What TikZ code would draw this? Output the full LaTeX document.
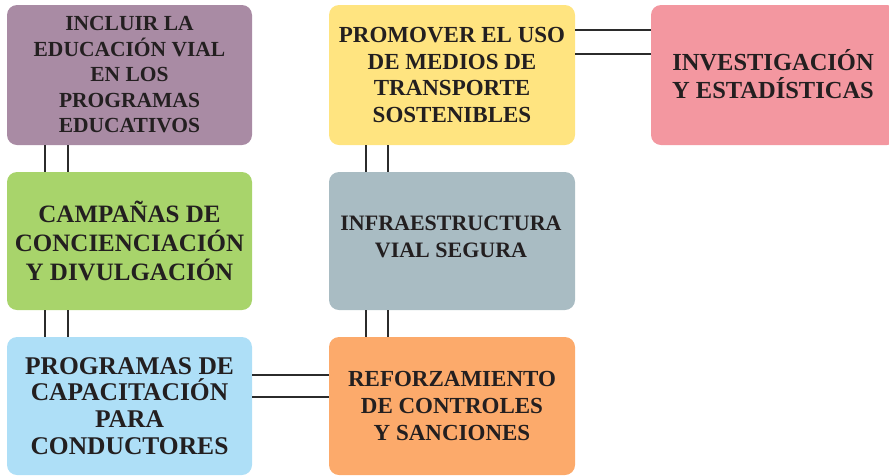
\documentclass[tikz,border=0pt]{standalone}
\usepackage{fontspec}
\setmainfont{Liberation Serif}
\usetikzlibrary{calc}
\definecolor{cpurple}{HTML}{A98BA4}
\definecolor{cyellow}{HTML}{FFE480}
\definecolor{cpink}{HTML}{F397A0}
\definecolor{cgreen}{HTML}{A8D46B}
\definecolor{cgrey}{HTML}{A9BCC3}
\definecolor{cblue}{HTML}{AEDFF7}
\definecolor{corange}{HTML}{FCAA6B}
\definecolor{ctext}{HTML}{231F20}
\definecolor{cline}{HTML}{2B2B2B}
\newcommand{\fs}[2]{\fontsize{#1}{#2}\selectfont}
\tikzset{
  box/.style={rectangle, rounded corners=10pt, inner sep=0pt, align=center,
    text=ctext},
  link/.style={draw=cline, line width=1.4pt}
}
\begin{document}
\begin{tikzpicture}[x=1pt,y=-1pt]
\useasboundingbox (0,0) rectangle (889,475);
\node[box, fill=cpurple, minimum width=245pt, minimum height=140pt,
  font={\bfseries\fs{21.5}{25.5}}] (b1) at (129.5,75)
  {INCLUIR LA\\EDUCACIÓN VIAL\\EN LOS\\PROGRAMAS\\EDUCATIVOS};
\node[box, fill=cyellow, minimum width=246pt, minimum height=140pt,
  font={\bfseries\fs{23}{26.5}}] (b2) at (452,75)
  {PROMOVER EL USO\\DE MEDIOS DE\\TRANSPORTE\\SOSTENIBLES};
\node[box, fill=cpink, minimum width=246pt, minimum height=140pt] (b3) at (774,75)
  {};
\node[ctext, align=center, inner sep=0pt, font={\bfseries\fs{24.5}{28}}] (t3) at (773,74)
  {INVESTIGACIÓN\\Y ESTADÍSTICAS};
\node[box, fill=cgreen, minimum width=245pt, minimum height=138pt,
  font={\bfseries\fs{25}{29}}] (b4) at (129.5,241)
  {CAMPAÑAS DE\\CONCIENCIACIÓN\\Y DIVULGACIÓN};
\node[box, fill=cgrey, minimum width=246pt, minimum height=138pt] (b5) at (452,241) {};
\node[ctext, align=center, inner sep=0pt, font={\bfseries\fs{22}{26.5}}] (t5) at (451,237)
  {INFRAESTRUCTURA\\VIAL SEGURA};
\node[box, fill=cblue, minimum width=245pt, minimum height=138pt,
  font={\bfseries\fs{25.5}{26.7}}] (b6) at (129.5,406)
  {PROGRAMAS DE\\CAPACITACIÓN\\PARA\\CONDUCTORES};
\node[box, fill=corange, minimum width=246pt, minimum height=138pt,
  font={\bfseries\fs{23}{27}}] (b7) at (452,406)
  {REFORZAMIENTO\\DE CONTROLES\\Y SANCIONES};
% connectors
\draw[link] ($(b1.south west)+(38,0)$) -- ($(b4.north west)+(38,0)$);
\draw[link] ($(b1.south west)+(61,0)$) -- ($(b4.north west)+(61,0)$);
\draw[link] ($(b4.south west)+(38,0)$) -- ($(b6.north west)+(38,0)$);
\draw[link] ($(b4.south west)+(61,0)$) -- ($(b6.north west)+(61,0)$);
\draw[link] ($(b2.south west)+(37,0)$) -- ($(b5.north west)+(37,0)$);
\draw[link] ($(b2.south west)+(59,0)$) -- ($(b5.north west)+(59,0)$);
\draw[link] ($(b5.south west)+(37,0)$) -- ($(b7.north west)+(37,0)$);
\draw[link] ($(b5.south west)+(59,0)$) -- ($(b7.north west)+(59,0)$);
\draw[link] ($(b2.north east)+(0,25)$) -- ($(b3.north west)+(0,25)$);
\draw[link] ($(b2.north east)+(0,49)$) -- ($(b3.north west)+(0,49)$);
\draw[link] ($(b6.north east)+(0,38)$) -- ($(b7.north west)+(0,38)$);
\draw[link] ($(b6.north east)+(0,60)$) -- ($(b7.north west)+(0,60)$);
\end{tikzpicture}
\end{document}
